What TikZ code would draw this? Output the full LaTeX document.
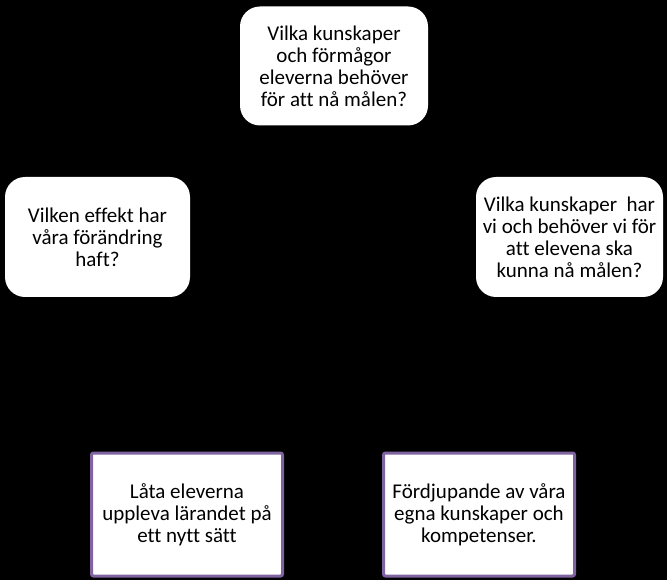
\documentclass[tikz,border=0pt]{standalone}
\usepackage{fontspec}
\setmainfont[Ligatures=NoCommon]{Carlito}
\begin{document}
\begin{tikzpicture}[x=1pt,y=-1pt,
  qbox/.style={fill=white,draw=none,rounded corners=20pt,align=center,inner sep=0pt,
    font=\fontsize{21}{22}\selectfont},
  pbox/.style={fill=white,draw={rgb,255:red,128;green,100;blue,162},line width=3pt,rounded corners=2pt,
    align=center,inner sep=0pt,font=\fontsize{21}{22}\selectfont}]
\fill[black] (0,0) rectangle (667,580);
\useasboundingbox (0,0) rectangle (667,580);
\node[qbox,minimum width=188pt,minimum height=119pt] (top) at (334,66)
  {Vilka kunskaper\\och förmågor\\eleverna behöver\\för att nå målen?};
\node[qbox,minimum width=185pt,minimum height=120pt] (left) at (97.5,237)
  {Vilken effekt har\\våra förändring\\haft?};
\node[qbox,minimum width=187pt,minimum height=120pt] (right) at (569.5,237)
  {Vilka kunskaper\ \ har\\vi och behöver vi för\\att elevena ska\\kunna nå målen?};
\node[pbox,minimum width=191pt,minimum height=123pt] (bl) at (187,514.5)
  {Låta eleverna\\uppleva lärandet på\\ett nytt sätt};
\node[pbox,minimum width=191pt,minimum height=123pt] (br) at (479,514.5)
  {Fördjupande av våra\\egna kunskaper och\\kompetenser.};
\end{tikzpicture}
\end{document}
